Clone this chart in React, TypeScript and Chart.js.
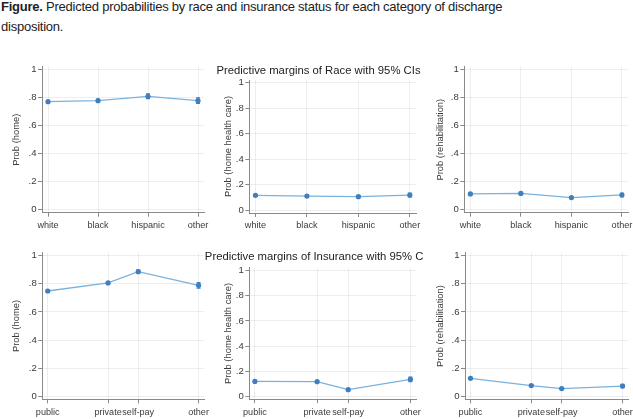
import React, { useEffect, useRef } from "react";
import { Chart, registerables } from "chart.js";
Chart.register(...registerables);

// ---- data ----
const raceCategories = ["white", "black", "hispanic", "other"];
const racePositions = [1, 2, 3, 4];
const insuranceCategories = ["public", "private", "self-pay", "other"];
const insurancePositions = [1, 3, 4, 6];
const yTickValues = [0, 0.2, 0.4, 0.6, 0.8, 1];
const yTickLabels = ["0", ".2", ".4", ".6", ".8", "1"];

const raceHome = [0.772, 0.779, 0.81, 0.779];
const raceHomeCI = [0.008, 0.01, 0.017, 0.02];
const raceHHC = [0.117, 0.111, 0.106, 0.119];
const raceHHCCI = [0.006, 0.007, 0.008, 0.015];
const raceRehab = [0.112, 0.116, 0.086, 0.105];
const raceRehabCI = [0.006, 0.007, 0.007, 0.012];

const insHome = [0.749, 0.806, 0.886, 0.789];
const insHomeCI = [0.006, 0.008, 0.012, 0.02];
const insHHC = [0.119, 0.117, 0.053, 0.135];
const insHHCCI = [0.005, 0.007, 0.008, 0.018];
const insRehab = [0.128, 0.076, 0.055, 0.073];
const insRehabCI = [0.005, 0.006, 0.007, 0.012];

const raceTitle = "Predictive margins of Race with 95% CIs";
const insuranceTitle = "Predictive margins of Insurance with 95% CIs";

// ---- styles ----
const LINE = "#79b2dd";
const MARK = "#3f7fc0";
const AXIS = "#8a8a8a";
const GRID = "rgba(0,0,0,0.065)";
const TEXT = "#3a3a3a";
const FONT = "'Liberation Sans', Arial, sans-serif";

const errorBarPlugin = {
  id: "errorBars",
  beforeDatasetsDraw(chart: any) {
    const { ctx } = chart;
    const x = chart.scales.x;
    const y = chart.scales.y;
    chart.data.datasets.forEach((ds: any) => {
      const ci = ds.ci;
      if (!ci) return;
      ctx.save();
      ctx.strokeStyle = ds.ciColor;
      ctx.lineWidth = 1.2;
      ds.data.forEach((p: any, i: number) => {
        const px = x.getPixelForValue(p.x);
        const top = y.getPixelForValue(p.y + ci[i]);
        const bot = y.getPixelForValue(p.y - ci[i]);
        ctx.beginPath();
        ctx.moveTo(px, top);
        ctx.lineTo(px, bot);
        ctx.moveTo(px - 2, top);
        ctx.lineTo(px + 2, top);
        ctx.moveTo(px - 2, bot);
        ctx.lineTo(px + 2, bot);
        ctx.stroke();
      });
      ctx.restore();
    });
  },
};

const panelTitlePlugin = {
  id: "panelTitle",
  afterDraw(chart: any, _args: any, opts: any) {
    if (!opts || !opts.text) return;
    const { ctx } = chart;
    ctx.save();
    ctx.font = opts.font;
    ctx.fillStyle = opts.color;
    ctx.textAlign = "center";
    ctx.textBaseline = "middle";
    ctx.fillText(opts.text, opts.x, opts.y);
    ctx.restore();
  },
};

type PanelProps = {
  left: number;
  top: number;
  width: number;
  height: number;
  padLeft: number;
  padTop: number;
  padRight: number;
  yWidth: number;
  xHeight: number;
  yTitle: string;
  yTitlePad: number;
  labels: string[];
  positions: number[];
  values: number[];
  ci: number[];
  xMin: number;
  xMax: number;
  title?: string;
  titleX?: number;
  titleY?: number;
};

function Panel(p: PanelProps) {
  const ref = useRef<HTMLCanvasElement>(null);
  useEffect(() => {
    if (!ref.current) return;
    const chart = new Chart(ref.current, {
      type: "line",
      data: {
        datasets: [
          {
            data: p.positions.map((x, i) => ({ x, y: p.values[i] })),
            borderColor: LINE,
            borderWidth: 1.3,
            pointRadius: 2.6,
            pointBackgroundColor: MARK,
            pointBorderWidth: 0,
            tension: 0,
            ci: p.ci,
            ciColor: MARK,
          } as any,
        ],
      },
      plugins: [errorBarPlugin, panelTitlePlugin],
      options: {
        animation: false,
        responsive: false,
        events: [],
        layout: { padding: { left: p.padLeft, top: p.padTop, right: p.padRight, bottom: 0 } },
        plugins: {
          legend: { display: false },
          tooltip: { enabled: false },
          panelTitle: p.title
            ? { text: p.title, x: p.titleX, y: p.titleY, font: `11.3px ${FONT}`, color: "#222" }
            : {},
        } as any,
        scales: {
          x: {
            type: "linear",
            min: p.xMin,
            max: p.xMax,
            afterBuildTicks: (s: any) => {
              s.ticks = p.positions.map((v) => ({ value: v }));
            },
            afterFit: (s: any) => {
              s.height = p.xHeight;
              s.paddingLeft = 0;
              s.paddingRight = 0;
            },
            ticks: {
              callback: (_v: any, i: number) => p.labels[i],
              maxRotation: 0,
              minRotation: 0,
              autoSkip: false,
              font: { family: FONT, size: 9.1 },
              color: TEXT,
              padding: 3.5,
            },
            grid: { color: GRID, tickColor: AXIS, tickLength: 4, lineWidth: 1 },
            border: { color: AXIS, width: 1 },
          },
          y: {
            type: "linear",
            min: -0.022,
            max: 1.022,
            afterBuildTicks: (s: any) => {
              s.ticks = yTickValues.map((v) => ({ value: v }));
            },
            afterFit: (s: any) => {
              s.width = p.yWidth;
              s.paddingTop = 0;
              s.paddingBottom = 0;
            },
            ticks: {
              callback: (_v: any, i: number) => yTickLabels[i],
              font: { family: FONT, size: 9.6 },
              color: TEXT,
              padding: 1.5,
            },
            grid: { color: GRID, tickColor: AXIS, tickLength: 4, lineWidth: 1 },
            border: { color: AXIS, width: 1 },
            title: {
              display: true,
              text: p.yTitle,
              font: { family: FONT, size: 9.4 },
              color: TEXT,
              padding: { top: p.yTitlePad, bottom: 0 },
            },
          },
        },
      } as any,
    });
    return () => chart.destroy();
  }, []);
  return (
    <canvas
      ref={ref}
      width={p.width}
      height={p.height}
      style={{ position: "absolute", left: p.left, top: p.top, width: p.width, height: p.height }}
    />
  );
}

const raceX = { xMin: 0.88, xMax: 4.12, labels: raceCategories, positions: racePositions };
const insX = { xMin: 0.82, xMax: 6.18, labels: insuranceCategories, positions: insurancePositions };

export default function App() {
  return (
    <div
      style={{
        position: "fixed",
        left: 0,
        top: 0,
        width: 633,
        height: 419,
        background: "#fff",
        overflow: "hidden",
      }}
    >
      <div
        style={{
          position: "absolute",
          left: 1,
          top: -3.5,
          fontFamily: FONT,
          fontSize: 13,
          letterSpacing: "-0.24px",
          lineHeight: "20.7px",
          color: "#222",
          whiteSpace: "nowrap",
        }}
      >
        <b>Figure.</b> Predicted probabilities by race and insurance status for each category of discharge
        <br />
        disposition.
      </div>

      {/* top row */}
      <Panel left={0} top={56} width={212} height={179} padLeft={0} padTop={10.7} padRight={8} yWidth={42} xHeight={22.3}
        yTitle="Prob (home)" yTitlePad={11} values={raceHome} ci={raceHomeCI} {...raceX} />
      <Panel left={203} top={56} width={222} height={179} padLeft={0} padTop={24} padRight={9} yWidth={46.3} xHeight={22}
        yTitle="Prob (home health care)" yTitlePad={20} values={raceHHC} ci={raceHHCCI} {...raceX}
        title={raceTitle} titleX={115.5} titleY={14.7} />
      <Panel left={425} top={56} width={208} height={179} padLeft={0} padTop={10.7} padRight={5} yWidth={39.3} xHeight={22.3}
        yTitle="Prob (rehabilitation)" yTitlePad={9.7} values={raceRehab} ci={raceRehabCI} {...raceX} />

      {/* bottom row */}
      <Panel left={0} top={238} width={212} height={181} padLeft={0} padTop={14.6} padRight={8} yWidth={42.3} xHeight={19.6}
        yTitle="Prob (home)" yTitlePad={11} values={insHome} ci={insHomeCI} {...insX} />
      <Panel left={203} top={238} width={220} height={181} padLeft={0} padTop={29.9} padRight={7} yWidth={46.3} xHeight={19.9}
        yTitle="Prob (home health care)" yTitlePad={20} values={insHHC} ci={insHHCCI} {...insX}
        title={insuranceTitle} titleX={115.5} titleY={19.3} />
      <Panel left={425} top={238} width={208} height={181} padLeft={0} padTop={14.6} padRight={5} yWidth={40} xHeight={19.6}
        yTitle="Prob (rehabilitation)" yTitlePad={9.7} values={insRehab} ci={insRehabCI} {...insX} />
    </div>
  );
}
